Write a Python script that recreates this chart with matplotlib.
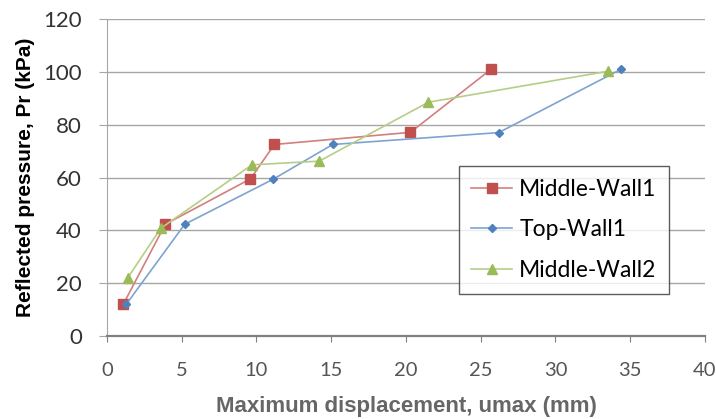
import matplotlib
matplotlib.use("Agg")
import matplotlib.pyplot as plt
import matplotlib.ticker as ticker

# 読み取り値（図から推定）
mw1_x = [1.1, 3.9, 9.6, 11.2, 20.3, 25.7]
mw1_y = [12.1, 42.3, 59.5, 72.5, 77.1, 101.0]

tw1_x = [1.3, 5.2, 11.1, 15.1, 26.2, 34.4]
tw1_y = [12.1, 42.3, 59.3, 72.5, 77.0, 101.0]

mw2_x = [1.4, 3.6, 9.7, 14.2, 21.5, 33.5]
mw2_y = [22.1, 40.8, 64.8, 66.2, 88.5, 100.2]

labels = ["Middle-Wall1", "Top-Wall1", "Middle-Wall2"]

plt.rcParams["font.family"] = ["Lato", "DejaVu Sans"]

fig = plt.figure(figsize=(7.16, 4.19), dpi=100)
ax = fig.add_axes([0.1494, 0.198, 0.8352, 0.7567])

series = [
    (mw1_x, mw1_y, "#C0504D", "#D47F7D", "s", 6.5),
    (tw1_x, tw1_y, "#4F81BD", "#7FA3D0", "D", 4.5),
    (mw2_x, mw2_y, "#9BBB59", "#B5CE86", "^", 7),
]
for (x, y, mc, lc, m, ms), lab in zip(series, labels):
    ax.plot(x, y, color=lc, lw=1.2, marker=m, ms=ms, mfc=mc, mec=mc,
            label=lab, zorder=3)

ax.set_xlim(0, 40)
ax.set_ylim(0, 120)
ax.xaxis.set_major_locator(ticker.MultipleLocator(5))
ax.yaxis.set_major_locator(ticker.MultipleLocator(20))
ax.grid(axis="y", color="#A6A6A6", lw=1.0)
ax.set_axisbelow(True)

for s in ["top", "right"]:
    ax.spines[s].set_visible(False)
ax.spines["left"].set_color("#A6A6A6")
ax.spines["bottom"].set_color("#808080")
ax.spines["bottom"].set_linewidth(1.6)
ax.tick_params(axis="y", colors="#A6A6A6", length=6, labelcolor="#333333",
               labelsize=16, pad=12)
ax.tick_params(axis="x", colors="#808080", length=4, labelcolor="#555555",
               labelsize=14.5, pad=15)

ax.set_xlabel("Maximum displacement, umax (mm)", fontsize=16,
              fontweight="bold", color="#666666", labelpad=12,
              family=["Liberation Sans", "DejaVu Sans"])
ax.set_ylabel("Reflected pressure, Pr (kPa)", fontsize=15,
              fontweight="bold", color="black", labelpad=6,
              family=["Liberation Sans", "DejaVu Sans"])

leg = ax.legend(loc="upper left", bbox_to_anchor=(0.588, 0.535),
                fontsize=16.5, frameon=True, fancybox=False, edgecolor="#333333",
                handlelength=1.8, labelspacing=0.85, borderpad=0.55,
                handletextpad=0.3, borderaxespad=0)
leg.get_frame().set_linewidth(1.0)

fig.savefig("out.png", dpi=100)
